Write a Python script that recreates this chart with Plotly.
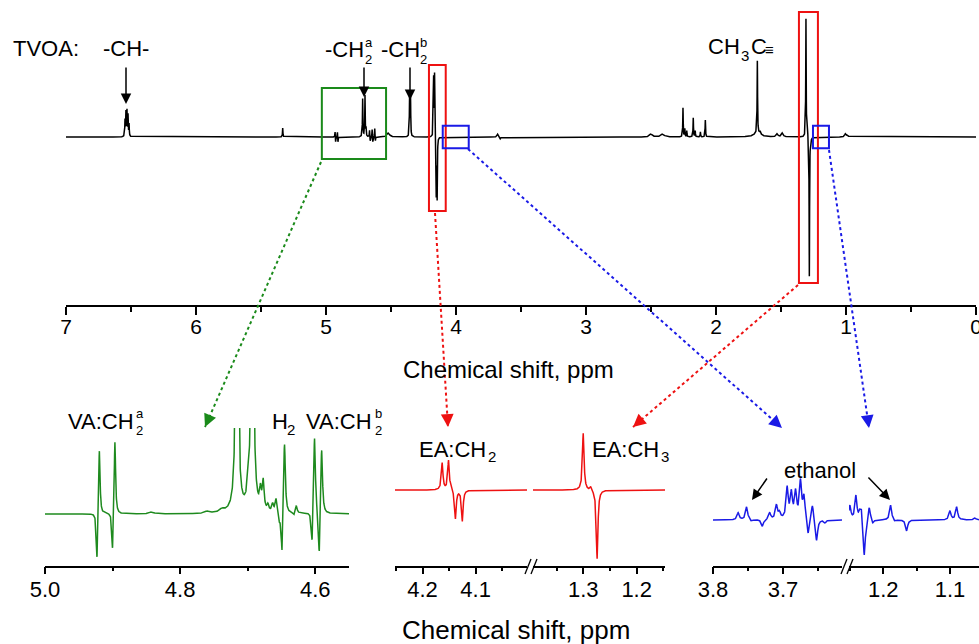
import numpy as np
import plotly.graph_objects as go

W, H = 979, 644
FONT = "Liberation Sans, Arial, sans-serif"

# ---------------- data: peak lists ----------------
# top (overview) spectrum: position (ppm), signed height (a.u.), half width (ppm)
TOP_PPM = [6.546, 6.539, 6.531, 6.523, 6.515, 5.333,
           4.930, 4.926, 4.912, 4.908, 4.718, 4.700, 4.692,
           4.665, 4.660, 4.645, 4.640, 4.625, 4.620, 4.520,
           4.357, 4.350, 4.172, 4.165, 4.152, 4.145,
           3.680, 3.660, 2.500, 2.410,
           2.254, 2.240, 2.225, 2.175, 2.160, 2.120, 2.082,
           1.682, 1.682, 1.660, 1.530, 1.490,
           1.308, 1.295, 1.282, 1.270, 1.005, 0.990]
TOP_HEIGHT = [16, 24, 25, 21, 12, 9,
              6, -6, 6, -6, 38, 41, 8,
              7, -5, 8, -6, 9, -5, 4,
              38, 40, 58, 62, -58, -60,
              3, -2, 3, 3,
              29, 8, 6, 19, 6, 5, 17,
              72, 4, 3, 3, 4,
              119, 6, -140, -5, 3, 2]
TOP_HW = [0.002] * 19 + [0.012] + [0.002] * 6 + [0.005, 0.005, 0.012, 0.015] + \
         [0.002] * 7 + [0.002, 0.03, 0.005, 0.008, 0.008] + [0.002] * 4 + [0.006, 0.006]

# green inset (VA / H2 region)
GREEN_PPM = [4.923, 4.9195, 4.900, 4.8965, 4.842, 4.760, 4.738,
             4.716, 4.693, 4.699, 4.681, 4.677, 4.670, 4.663, 4.658,
             4.653, 4.649, 4.6455, 4.631, 4.628,
             4.6045, 4.601, 4.594, 4.5905]
GREEN_HEIGHT = [-50, 68, -42, 76, 2, 2, 3,
                300, 300, 24, 18, 28, 6, 8, 14,
                -8, -48, 76, -3, 8,
                -38, 82, -51, 70]
GREEN_HW = [0.0012] * 4 + [0.004] * 3 + [0.002, 0.002] + [0.0015] * 15

# red insets (EA:CH2 and EA:CH3)
RED1_PPM = [4.163, 4.151, 4.138, 4.125]
RED1_HEIGHT = [27, 30, -29, -31]
RED2_PPM = [1.300, 1.286, 1.274]
RED2_HEIGHT = [57, 4, -69]
RED_HW = 0.0018

# blue insets (ethanol region)
BLUE1_PPM = [3.764, 3.752, 3.745, 3.7295, 3.719, 3.7094, 3.705, 3.694, 3.688,
             3.682, 3.675, 3.670, 3.664, 3.658, 3.652, 3.640]
BLUE1_HEIGHT = [7, 13, -2, -7, 7, 14, 6, 31, 25, 26, 37, 22, -17, 16, -22, -3]
BLUE2_PPM = [1.250, 1.241, 1.235, 1.2324, 1.2285, 1.221, 1.2155, 1.189, 1.1825,
             1.165, 1.100, 1.090, 1.0625]
BLUE2_HEIGHT = [14, 24, 8, 12, -39, 14, -4, 15, -2, -11, 9, 13, 2]
BLUE_HW = 0.0018

# axis ranges / tick settings
TOP_RANGE = [7, 0]
GREEN_RANGE = [5.0, 4.55]
RED_RANGES = [[4.252, 4.003], [1.394, 1.147]]
BLUE_RANGES = [[3.8, 3.6157], [1.2514, 1.0565]]


def fx(px):
    return px / W


def fy(py):
    return 1 - py / H


def spectrum(lo, hi, n, ppm, height, hw):
    if np.isscalar(hw):
        hw = [hw] * len(ppm)
    grid = np.linspace(lo, hi, n)
    grid = np.union1d(grid, [p for p in ppm if lo <= p <= hi])
    y = np.zeros_like(grid)
    for p, h, w in zip(ppm, height, hw):
        y += h / (1 + ((grid - p) / w) ** 2)
    return grid, y


fig = go.Figure()

x, y = spectrum(0, 7, 7001, TOP_PPM, TOP_HEIGHT, TOP_HW)
fig.add_trace(go.Scatter(x=x, y=y, mode="lines", line=dict(color="black", width=1.5),
                         xaxis="x", yaxis="y", hoverinfo="skip"))

x, y = spectrum(4.55, 5.0, 2251, GREEN_PPM, GREEN_HEIGHT, GREEN_HW)
fig.add_trace(go.Scatter(x=x, y=y, mode="lines", line=dict(color="#1e8a1e", width=1.5),
                         xaxis="x2", yaxis="y2", hoverinfo="skip"))

x, y = spectrum(RED_RANGES[0][1], RED_RANGES[0][0], 1300, RED1_PPM, RED1_HEIGHT, RED_HW)
fig.add_trace(go.Scatter(x=x, y=y, mode="lines", line=dict(color="#ee1111", width=1.5),
                         xaxis="x3", yaxis="y3", hoverinfo="skip"))
x, y = spectrum(RED_RANGES[1][1], RED_RANGES[1][0], 1300, RED2_PPM, RED2_HEIGHT, RED_HW)
fig.add_trace(go.Scatter(x=x, y=y, mode="lines", line=dict(color="#ee1111", width=1.5),
                         xaxis="x4", yaxis="y4", hoverinfo="skip"))

x, y = spectrum(BLUE_RANGES[0][1], BLUE_RANGES[0][0], 1000, BLUE1_PPM, BLUE1_HEIGHT, BLUE_HW)
fig.add_trace(go.Scatter(x=x, y=y, mode="lines", line=dict(color="#1a1ae6", width=1.5),
                         xaxis="x5", yaxis="y5", hoverinfo="skip"))
x, y = spectrum(BLUE_RANGES[1][1], BLUE_RANGES[1][0], 1000, BLUE2_PPM, BLUE2_HEIGHT, BLUE_HW)
fig.add_trace(go.Scatter(x=x, y=y, mode="lines", line=dict(color="#1a1ae6", width=1.5),
                         xaxis="x6", yaxis="y6", hoverinfo="skip"))


def xax(dom, rng, pos, dtick, minor, fmt, size, tl=8, mtl=5, standoff=0):
    return dict(domain=[fx(dom[0]), fx(dom[1])], range=rng, anchor="free", position=fy(pos),
                showline=True, linecolor="black", linewidth=1.5, ticks="outside",
                ticklen=tl, tickwidth=1.5, tickcolor="black", tick0=0, dtick=dtick,
                tickformat=fmt, tickfont=dict(size=size, color="black", family=FONT),
                ticklabeloverflow="allow", ticklabelstandoff=standoff,
                minor=dict(dtick=minor, tick0=0, ticklen=mtl, tickwidth=1.5,
                           tickcolor="black", ticks="outside", showgrid=False),
                showgrid=False, zeroline=False, side="bottom", automargin=False)


def yax(dom, rng):
    return dict(domain=[fy(dom[1]), fy(dom[0])], range=rng, visible=False,
                fixedrange=True, automargin=False)


fig.update_layout(
    width=W, height=H, margin=dict(l=0, r=0, t=0, b=0, autoexpand=False),
    paper_bgcolor="white", plot_bgcolor="white", showlegend=False,
    font=dict(family=FONT, color="black"),
    xaxis=xax([66, 976], TOP_RANGE, 306, 1, 0.5, "d", 21, standoff=-6),
    yaxis=yax([4, 296], [-159, 133]),
    xaxis2=xax([45, 349], GREEN_RANGE, 566.5, 0.2, 0.1, ".1f", 22, 7, 4, -4),
    yaxis2=yax([428, 562], [-48, 86]),
    xaxis3=xax([395, 527], RED_RANGES[0], 566.5, 0.1, 0.05, ".1f", 22, 7, 4, -4),
    yaxis3=yax([425, 562], [-72, 65]),
    xaxis4=xax([533, 665], RED_RANGES[1], 566.5, 0.1, 0.05, ".1f", 22, 7, 4, -4),
    yaxis4=yax([425, 562], [-72, 65]),
    xaxis5=xax([713, 842], BLUE_RANGES[0], 566.5, 0.1, 0.05, ".1f", 22, 7, 4, -4),
    yaxis5=yax([468, 565], [-45, 52]),
    xaxis6=xax([849, 979], BLUE_RANGES[1], 566.5, 0.1, 0.05, ".1f", 22, 7, 4, -4),
    yaxis6=yax([468, 565], [-45, 52]),
)

# ---------------- boxes on the overview spectrum (ppm / height) ----------------
BOXES = [  # (ppm_left, ppm_right, y_top, y_bottom, colour)
    (5.032, 4.538, 49, -22, "#1a8a1a"),
    (4.208, 4.079, 72, -74, "#ee1111"),
    (4.102, 3.902, 11.3, -11.3, "#1a1ae6"),
    (1.362, 1.216, 125, -146, "#ee1111"),
    (1.254, 1.131, 11.3, -11.3, "#1a1ae6"),
]
for x0, x1, y0, y1, c in BOXES:
    fig.add_shape(type="rect", xref="x", yref="y", x0=x0, x1=x1, y0=y0, y1=y1,
                  line=dict(color=c, width=2))

# ---------------- dotted connectors (pixel positions) ----------------
CONNECTORS = [
    ((321, 162), (205, 427), "#1a8a1a"),
    ((435, 213), (448, 427), "#ee1111"),
    ((468, 149), (782, 428), "#1a1ae6"),
    ((798, 285), (633, 427), "#ee1111"),
    ((829, 150), (869, 428), "#1a1ae6"),
]
for (sx, sy), (ex, ey), c in CONNECTORS:
    fig.add_shape(type="line", xref="paper", yref="paper", x0=fx(sx), y0=fy(sy),
                  x1=fx(ex), y1=fy(ey), line=dict(color=c, width=2, dash="dot"))
    d = np.hypot(ex - sx, ey - sy)
    ux, uy = (ex - sx) / d, (ey - sy) / d
    fig.add_annotation(xref="paper", yref="paper", x=fx(ex), y=fy(ey), ax=-ux * 13,
                       ay=-uy * 13, showarrow=True, arrowhead=2, arrowsize=1.6,
                       arrowwidth=1.6, arrowcolor=c, text="")

# ---------------- black arrows ----------------
ARROWS = [((126, 66), (126, 104)), ((364, 66), (364, 97)), ((410, 66), (410, 100)),
          ((768, 477), (752, 500)), ((867, 476), (890, 500))]
for (sx, sy), (ex, ey) in ARROWS:
    fig.add_annotation(xref="paper", yref="paper", x=fx(ex), y=fy(ey), ax=sx - ex,
                       ay=sy - ey, showarrow=True, arrowhead=2, arrowsize=1.4,
                       arrowwidth=1.5, arrowcolor="black", text="")

# ---------------- axis-break marks ----------------
for bx in (525, 841):
    for off in (0, 6):
        fig.add_shape(type="line", xref="paper", yref="paper",
                      x0=fx(bx + off), y0=fy(574), x1=fx(bx + off + 6), y1=fy(559),
                      line=dict(color="black", width=1.3))


def txt(x, y, s, size=22, anchor="left"):
    fig.add_annotation(xref="paper", yref="paper", x=fx(x), y=fy(y), text=s,
                       showarrow=False, xanchor=anchor, yanchor="middle", borderpad=0,
                       font=dict(size=size, color="black", family=FONT))


def stack(x, y, sup, sub):
    # superscript stacked over subscript (e.g. CH2 with label a/b)
    fig.add_annotation(xref="paper", yref="paper", x=fx(x), y=fy(y), text=sup + "<br>" + sub,
                       showarrow=False, xanchor="center", yanchor="middle", borderpad=0,
                       font=dict(size=13, color="black", family=FONT))


# labels
txt(12, 48, "TVOA:")
txt(126, 48, "-CH-", anchor="center")
txt(324, 50, "-CH")
stack(369, 51, "a", "2")
txt(380, 50, "-CH")
stack(423, 51, "b", "2")
txt(707, 47, "CH")
txt(745, 56, "3", 15, "center")
txt(750, 47, "C")
txt(764, 50, "\u2261", 15)

txt(67, 421, "VA:CH")
stack(140, 422, "a", "2")
txt(271, 421, "H")
txt(291, 429, "2", 15, "center")
txt(305, 421, "VA:CH")
stack(378, 422, "b", "2")
txt(418, 449, "EA:CH")
txt(492, 456, "2", 15, "center")
txt(591, 449, "EA:CH")
txt(665, 456, "3", 15, "center")
txt(820, 470, "ethanol", 22, "center")

txt(508, 369, "Chemical shift, ppm", 24, "center")
txt(516, 630, "Chemical shift, ppm", 26, "center")

fig.write_html("out.html", config={"displayModeBar": False},
               post_script="document.body.style.margin='0px';"
                           "document.body.style.overflow='hidden';")
